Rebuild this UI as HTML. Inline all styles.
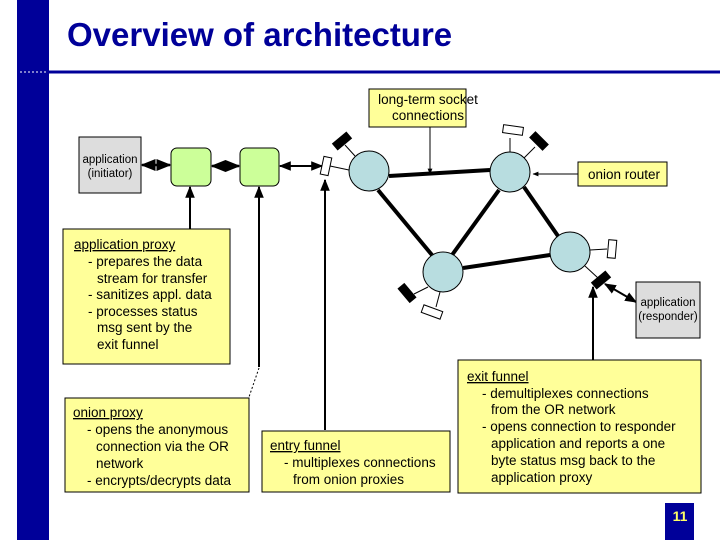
<!DOCTYPE html>
<html><head><meta charset="utf-8"><style>
html,body{margin:0;padding:0;background:#fff;}
svg{display:block;}
text{font-family:"Liberation Sans",sans-serif;font-size:13.5px;fill:#000;}
</style></head><body>
<svg width="720" height="540" viewBox="0 0 720 540" xmlns="http://www.w3.org/2000/svg">
<defs>
<marker id="ah" viewBox="0 0 10 10" refX="9" refY="5" markerWidth="6" markerHeight="6" orient="auto-start-reverse"><path d="M0,1 L10,5 L0,9 z" fill="#000"/></marker>
</defs>
<rect x="17" y="0" width="32" height="540" fill="#000099"/>
<line x1="17" y1="72" x2="720" y2="72" stroke="#000099" stroke-width="3"/>
<line x1="20" y1="72" x2="46" y2="72" stroke="#fff" stroke-width="1" stroke-dasharray="2,2"/>
<text x="67" y="46" style="font-size:33px;font-weight:bold;fill:#000099">Overview of architecture</text>

<g stroke="#000" fill="none">
<line x1="142" y1="165" x2="170" y2="165" stroke-width="2.5" marker-start="url(#ah)" marker-end="url(#ah)"/>
<line x1="212" y1="166" x2="239" y2="166" stroke-width="2.5" marker-start="url(#ah)" marker-end="url(#ah)"/>
<line x1="280" y1="166" x2="322" y2="166" stroke-width="2" marker-start="url(#ah)" marker-end="url(#ah)"/>
<line x1="190" y1="229" x2="190" y2="187" stroke-width="2" marker-end="url(#ah)"/>
<line x1="259" y1="367" x2="259" y2="187" stroke-width="2" marker-end="url(#ah)"/>
<line x1="259" y1="368" x2="249" y2="397" stroke-width="1" stroke-dasharray="2,2"/>
<line x1="325" y1="430" x2="325" y2="180" stroke-width="2" marker-end="url(#ah)"/>
<line x1="593" y1="360" x2="593" y2="287" stroke-width="2" marker-end="url(#ah)"/>
<line x1="605" y1="284" x2="636" y2="302" stroke-width="2" marker-start="url(#ah)" marker-end="url(#ah)"/>
<line x1="430" y1="127" x2="430" y2="174" stroke-width="1" marker-end="url(#ah)"/>
<line x1="578" y1="174" x2="533" y2="174" stroke-width="1" marker-end="url(#ah)"/>
<line x1="389" y1="176" x2="490" y2="170" stroke-width="4"/>
<line x1="378" y1="190" x2="432" y2="255" stroke-width="4"/>
<line x1="452" y1="255" x2="499" y2="190" stroke-width="4"/>
<line x1="524" y1="187" x2="558" y2="236" stroke-width="4"/>
<line x1="463" y1="268" x2="550" y2="255" stroke-width="4"/>
<line x1="349" y1="170" x2="330" y2="166" stroke-width="1"/>
<line x1="355" y1="156" x2="345" y2="145" stroke-width="1"/>
<line x1="510" y1="152" x2="510" y2="138" stroke-width="1"/>
<line x1="524" y1="158" x2="535" y2="147" stroke-width="1"/>
<line x1="590" y1="250" x2="607" y2="249" stroke-width="1"/>
<line x1="585" y1="266" x2="598" y2="278" stroke-width="1"/>
<line x1="428" y1="287" x2="414" y2="294" stroke-width="1"/>
<line x1="440" y1="292" x2="436" y2="307" stroke-width="1"/>
</g>
<g stroke="#000" stroke-width="1">
<rect x="-4" y="-9" width="8" height="18" fill="#fff" transform="translate(326,166) rotate(12)"/>
<rect x="-4" y="-9" width="8" height="18" fill="#000" transform="translate(342,141) rotate(50)"/>
<rect x="-10" y="-4" width="20" height="8" fill="#fff" transform="translate(513,130) rotate(8)"/>
<rect x="-4" y="-9" width="8" height="18" fill="#000" transform="translate(539,141) rotate(-45)"/>
<rect x="-4" y="-9" width="8" height="18" fill="#fff" transform="translate(612,249) rotate(5)"/>
<rect x="-4" y="-9" width="8" height="18" fill="#000" transform="translate(601,280) rotate(50)"/>
<rect x="-4" y="-9" width="8" height="18" fill="#000" transform="translate(407,293) rotate(-40)"/>
<rect x="-10" y="-4" width="20" height="8" fill="#fff" transform="translate(432,312) rotate(20)"/>
</g>
<g fill="#b8dde0" stroke="#000" stroke-width="1">
<circle cx="369" cy="171" r="20"/>
<circle cx="510" cy="172" r="20"/>
<circle cx="443" cy="272" r="20"/>
<circle cx="570" cy="252" r="20"/>
</g>
<rect x="171" y="148" width="40" height="38" rx="6" fill="#ccff99" stroke="#000"/>
<rect x="240" y="148" width="39" height="38" rx="6" fill="#ccff99" stroke="#000"/>
<rect x="79" y="137" width="62" height="56" fill="#dddddd" stroke="#000"/>
<text x="110" y="163" text-anchor="middle" style="font-size:11.5px">application</text>
<text x="110" y="177" text-anchor="middle" style="font-size:11.5px">(initiator)</text>
<rect x="636" y="282" width="64" height="56" fill="#dddddd" stroke="#000"/>
<text x="668" y="306" text-anchor="middle" style="font-size:11.5px">application</text>
<text x="668" y="320" text-anchor="middle" style="font-size:11.5px">(responder)</text>
<g fill="#ffff99" stroke="#000">
<rect x="369" y="89" width="97" height="38"/>
<rect x="578" y="162" width="89" height="24"/>
<rect x="63" y="229" width="167" height="135"/>
<rect x="65" y="398" width="184" height="94"/>
<rect x="262" y="431" width="188" height="61"/>
<rect x="458" y="360" width="243" height="133"/>
</g>
<text x="428" y="104" text-anchor="middle">long-term socket</text>
<text x="428" y="120" text-anchor="middle">connections</text>
<text x="624" y="179" text-anchor="middle">onion router</text>

<text x="74" y="249" text-decoration="underline">application proxy</text>
<text x="88" y="266">- prepares the data</text>
<text x="97" y="283">stream for transfer</text>
<text x="88" y="299">- sanitizes appl. data</text>
<text x="88" y="316">- processes status</text>
<text x="97" y="332">msg sent by the</text>
<text x="97" y="349">exit funnel</text>

<text x="73" y="417" text-decoration="underline">onion proxy</text>
<text x="87" y="434">- opens the anonymous</text>
<text x="96" y="451">connection via the OR</text>
<text x="96" y="468">network</text>
<text x="87" y="485">- encrypts/decrypts data</text>

<text x="270" y="450" text-decoration="underline">entry funnel</text>
<text x="284" y="467">- multiplexes connections</text>
<text x="293" y="484">from onion proxies</text>

<text x="467" y="381" text-decoration="underline">exit funnel</text>
<text x="482" y="398">- demultiplexes connections</text>
<text x="491" y="414">from the OR network</text>
<text x="482" y="431">- opens connection to responder</text>
<text x="491" y="448">application and reports a one</text>
<text x="491" y="465">byte status msg back to the</text>
<text x="491" y="482">application proxy</text>

<rect x="665" y="503" width="29" height="37" fill="#000099"/>
<text x="680" y="521" text-anchor="middle" style="font-size:14px;font-weight:bold;fill:#ffff66">11</text>
</svg>
</body></html>
